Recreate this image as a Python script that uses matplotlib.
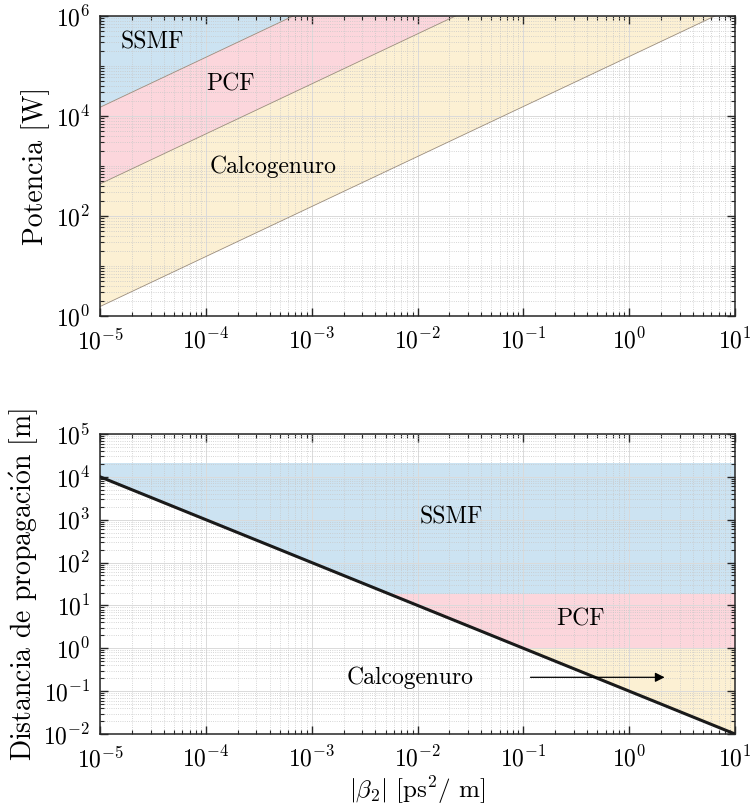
import numpy as np
import matplotlib
matplotlib.use("Agg")
import matplotlib.pyplot as plt
from matplotlib.patches import Polygon
from matplotlib.ticker import LogLocator, NullFormatter, FixedLocator

plt.rcParams["font.family"] = ["cmr10", "DejaVu Serif"]
plt.rcParams["mathtext.fontset"] = "cm"
plt.rcParams["axes.formatter.use_mathtext"] = True

# beta2 range [ps^2/m]
beta2 = [1e-5, 1e1]
beta2_ticks = [1e-5, 1e-4, 1e-3, 1e-2, 1e-1, 1e0, 1e1]

# upper panel: power limits P = k*|beta2| at the two ends of the range
p_ssmf = [1.5e4, 1.5e10]
p_pcf = [4.4e2, 4.4e8]
p_calco = [1.55e0, 1.55e6]
p_ticks = [1e0, 1e2, 1e4, 1e6]

# lower panel: propagation length limit and band limits per fibre
dist_line = [1e4, 1e-2]
dist_ticks = [1e-2, 1e-1, 1e0, 1e1, 1e2, 1e3, 1e4, 1e5]
band_ssmf = [18, 2.1e4]
band_pcf = [1, 18]
band_calco = [1e-2, 1]

c_blue = "#cce3f2"
c_pink = "#fcd6dc"
c_yellow = "#fcf0d3"
c_edge = "#9a8c7c"


def style_axes(ax, yticks):
    ax.set_xscale("log")
    ax.set_yscale("log")
    ax.xaxis.set_major_locator(FixedLocator(beta2_ticks))
    ax.yaxis.set_major_locator(FixedLocator(yticks))
    ax.xaxis.set_minor_locator(LogLocator(base=10, subs=np.arange(2, 10), numticks=20))
    ax.yaxis.set_minor_locator(LogLocator(base=10, subs=np.arange(1, 10), numticks=20))
    ax.xaxis.set_minor_formatter(NullFormatter())
    ax.yaxis.set_minor_formatter(NullFormatter())
    ax.grid(True, which="major", color="#dadada", lw=0.7, ls="-")
    ax.grid(True, which="minor", color="#c8c8c8", lw=0.6, ls=":")
    ax.tick_params(which="both", direction="in", top=True, right=True,
                   colors="#262626", labelsize=17, labelcolor="black")
    ax.tick_params(which="major", length=6, width=1.0)
    ax.tick_params(which="minor", length=3, width=0.8)
    ax.tick_params(axis="y", pad=7)
    ax.tick_params(axis="x", pad=9)
    for s in ax.spines.values():
        s.set_color("#262626")
        s.set_linewidth(1.1)


fig = plt.figure(figsize=(7.53, 8.07), dpi=100)
ax1 = fig.add_axes([0.133, 0.6084, 0.843, 0.3717])
ax2 = fig.add_axes([0.133, 0.0905, 0.843, 0.3717])

# --- power vs beta2
x0, x1 = beta2
ax1.fill([x0, x1, x0], [p_ssmf[0], p_ssmf[1], p_ssmf[1]], color=c_blue, lw=0, zorder=1)
ax1.fill([x0, x1, x1, x0], [p_pcf[0], p_pcf[1], p_ssmf[1], p_ssmf[0]],
         color=c_pink, lw=0, zorder=1)
ax1.fill([x0, x1, x1, x0], [p_calco[0], p_calco[1], p_pcf[1], p_pcf[0]],
         color=c_yellow, lw=0, zorder=1)
for p in (p_ssmf, p_pcf, p_calco):
    ax1.plot(beta2, p, color=c_edge, lw=0.6, zorder=2)

ax1.text(3.1e-5, 3e5, "SSMF", fontsize=17, ha="center", va="center")
ax1.text(1.7e-4, 4.2e4, "PCF", fontsize=17, ha="center", va="center")
ax1.text(4.3e-4, 9.5e2, "Calcogenuro", fontsize=17, ha="center", va="center")

style_axes(ax1, p_ticks)
ax1.set_xlim(1e-5, 1e1)
ax1.set_ylim(1e0, 1e6)
ax1.set_ylabel("Potencia [W]", fontsize=20, labelpad=4)

# --- propagation distance vs beta2
above = Polygon([(x0, dist_line[0]), (x1, dist_line[1]), (x1, 1e9), (x0, 1e9)],
                closed=True, transform=ax2.transData, facecolor="none", edgecolor="none")
ax2.add_patch(above)
for lo_hi, col in ((band_ssmf, c_blue), (band_pcf, c_pink), (band_calco, c_yellow)):
    band = ax2.fill_between(beta2, [lo_hi[0]] * 2, [lo_hi[1]] * 2, color=col, lw=0, zorder=1)
    band.set_clip_path(above)
ax2.plot(beta2, dist_line, color="#1a1a1a", lw=2.2, zorder=3)

ax2.text(0.021, 1.1e3, "SSMF", fontsize=17, ha="center", va="center")
ax2.text(0.35, 4.6, "PCF", fontsize=17, ha="center", va="center")
ax2.text(8.5e-3, 0.21, "Calcogenuro", fontsize=17, ha="center", va="center")
ax2.annotate("", xy=(2.3, 0.21), xytext=(0.11, 0.21),
             arrowprops=dict(arrowstyle="-|>", color="black", lw=0.9,
                             mutation_scale=14), zorder=4)

style_axes(ax2, dist_ticks)
ax2.set_xlim(1e-5, 1e1)
ax2.set_ylim(1e-2, 1e5)
ax2.set_ylabel(r"Distancia de propagaci$\acute{\mathrm{o}}$n [m]", fontsize=20, labelpad=2)
ax2.set_xlabel(r"$|\beta_2|$ [ps$^2$/ m]", fontsize=18, labelpad=2)

fig.savefig("out.png", dpi=100)
